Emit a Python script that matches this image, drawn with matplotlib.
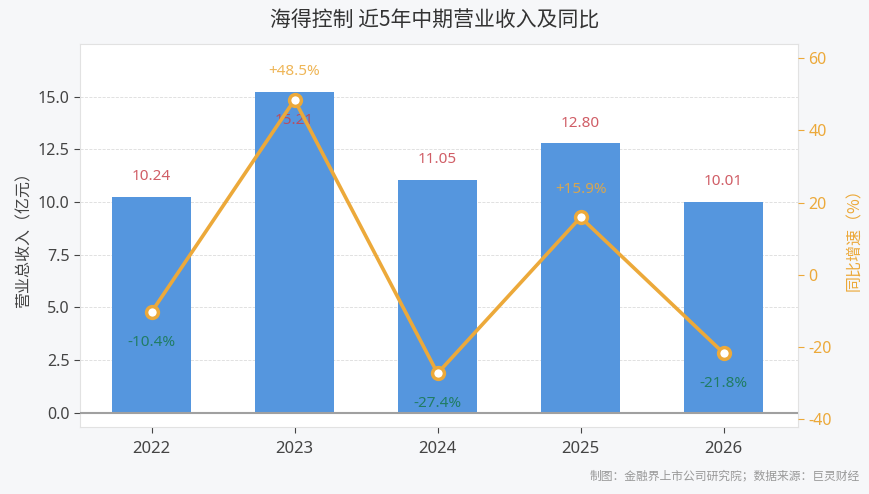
import matplotlib
matplotlib.use("Agg")
import matplotlib.pyplot as plt

plt.rcParams['font.family'] = ['Noto Sans', 'Noto Sans CJK SC', 'DejaVu Sans']
plt.rcParams['axes.unicode_minus'] = False

# Data
years = ["2022", "2023", "2024", "2025", "2026"]
revenue = [10.24, 15.21, 11.05, 12.80, 10.01]
yoy = [-10.4, 48.5, -27.4, 15.9, -21.8]

barCol = "#5596de"
lineCol = "#eca93a"
redCol = "#c8414b"
greenCol = "#1b7a57"
bgCol = "#f6f7f9"
cjk = ['Noto Sans CJK SC', 'DejaVu Sans']

fig = plt.figure(figsize=(8.7, 4.94), dpi=100, facecolor=bgCol)
ax = fig.add_axes([80/870, 1-427/494, 718/870, 383/494])
ax.set_facecolor("white")
ax2 = ax.twinx()

xPos = list(range(len(years)))
ax.bar(xPos, revenue, width=0.55, color=barCol, zorder=2)
ax.axhline(0, color="#a0a0a0", lw=1.5, zorder=3)
ax.set_xlim(-0.5, 4.52)
ax.set_ylim(-0.68, 17.5)
ax.set_yticks([0, 2.5, 5, 7.5, 10, 12.5, 15])
ax.set_yticklabels(["0.0", "2.5", "5.0", "7.5", "10.0", "12.5", "15.0"])
ax.set_xticks(xPos)
ax.set_xticklabels(years)
ax.grid(axis="y", linestyle="--", linewidth=0.6, color="#dcdcdc", zorder=0)
ax.set_axisbelow(True)
ax.tick_params(axis="y", labelsize=11.5, colors="#444444", length=4)
ax.tick_params(axis="x", labelsize=12, colors="#444444", length=4, pad=6)
ax.set_ylabel("营业总收入（亿元）", fontsize=11.5, color="#444444", labelpad=4, family=cjk)
for sp in ax.spines.values():
    sp.set_color("#e2e2e2")

# value labels above bars
for i, v in enumerate(revenue):
    ax.text(i, min(v + 0.95, 13.85), f"{v:.2f}", ha="center", va="center",
            fontsize=11, color=redCol, alpha=0.85, zorder=6)

# growth line
ax2.plot(xPos, yoy, color=lineCol, lw=2.6, marker="o", markersize=8.5,
         markerfacecolor="white", markeredgecolor=lineCol, markeredgewidth=2.5, zorder=5)
ax2.set_ylim(-42.3, 64)
ax2.set_yticks([-40, -20, 0, 20, 40, 60])
ax2.tick_params(axis="y", labelsize=11.5, colors=lineCol, length=4)
ax2.set_ylabel("同比增速（%）", fontsize=11.5, color=lineCol, rotation=90, labelpad=10, family=cjk)
for sp in ax2.spines.values():
    sp.set_visible(False)

for i, g in enumerate(yoy):
    if g >= 0:
        ax2.text(i, g + 7.8, f"+{g:.1f}%", ha="center", va="center",
                 fontsize=11, color=lineCol, alpha=0.85, zorder=6)
    else:
        ax2.text(i, g - 8.5, f"{g:.1f}%", ha="center", va="center",
                 fontsize=11, color=greenCol, alpha=0.9, zorder=6)

fig.text(0.5, 1-21/494, "海得控制 近5年中期营业收入及同比", ha="center", va="center",
         fontsize=15, color="#333333", family=cjk)
fig.text(1-10/870, 1-476/494, "制图：金融界上市公司研究院；数据来源：巨灵财经", ha="right", va="center",
         fontsize=8.5, color="#999999", family=cjk)

fig.savefig("out.png", dpi=100, facecolor=bgCol)
plt.close()
